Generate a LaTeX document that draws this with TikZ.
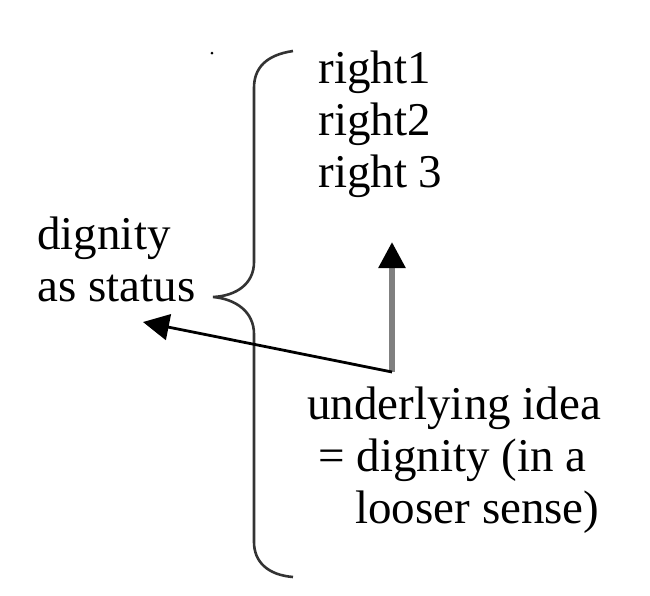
\documentclass[tikz,border=0pt]{standalone}
\usepackage{fontspec}
\setmainfont{Liberation Serif}
\usetikzlibrary{arrows.meta}
\tikzset{
    %Define standard arrow tip
    >={Triangle[length=13pt,width=13pt,color=black]},
    %Define style for the texts
    words/.style={
           inner sep=0pt,
           anchor=base west,
           align=left,
           font=\fontsize{23.5}{26}\selectfont},
    %Define style for the brace
    curly/.style={
           draw=black!80,
           line width=1.3pt},
    % Define arrow styles
    pil/.style={
           ->,
           draw=black,
           line width=1.4pt},
    graypil/.style={
           ->,
           draw=black!50,
           line width=2.8pt}
}
\begin{document}
\begin{tikzpicture}[x=0.5pt,y=-0.5pt]
\useasboundingbox (0,0) rectangle (650,596);
% base = baseline of the last line
\node[words](rights) at (318,187){right1\\right2\\right 3};
\node[words](status) at (37,301){dignity\\as status};
\node[words](idea) at (307,523){underlying idea\\\hspace*{5.5pt}= dignity (in a\\\hspace*{24pt}looser sense)};
\coordinate (knee) at (392,372);
\coordinate (uptip) at (392,242);
\coordinate (lefttip) at (143,322);
\draw[curly] (293,51) .. controls (266,55) and (254,68) .. (254,88)
    -- (254,262) .. controls (254,284) and (236,296) .. (213,297)
    .. controls (236,299) and (254,312) .. (254,334)
    -- (254,542) .. controls (254,562) and (268,575) .. (293,577);
\draw[graypil] (knee) -- (uptip);
\draw[pil] (knee) -- (lefttip);
\fill (212,53) circle (1.5);
\end{tikzpicture}
\end{document}
